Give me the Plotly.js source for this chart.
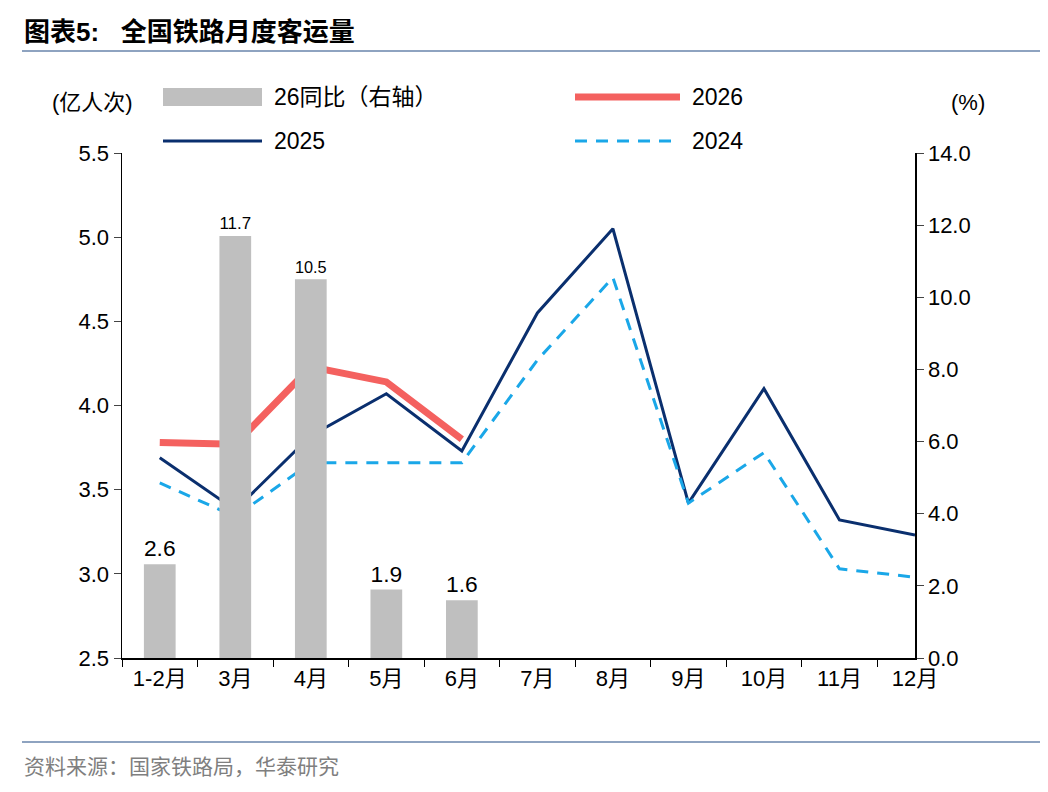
<!DOCTYPE html>
<html><head><meta charset="utf-8">
<script src="https://cdn.plot.ly/plotly-3.0.1.min.js"></script>
<style>body{margin:0;background:#fff}</style>
</head><body>
<div id="chart" style="width:1048px;height:792px"></div>
<script>
const months = ['1-2月','3月','4月','5月','6月','7月','8月','9月','10月','11月','12月'];
const yoy26 = [2.6, 11.7, 10.5, 1.9, 1.6];
const s2026 = [3.78, 3.77, 4.23, 4.14, 3.80];
const s2025 = [3.69, 3.38, 3.82, 4.07, 3.73, 4.55, 5.05, 3.42, 4.10, 3.32, 3.23];
const s2024 = [3.54, 3.34, 3.66, 3.66, 3.66, 4.27, 4.76, 3.42, 3.72, 3.03, 2.98];

const font = "Liberation Sans, Noto Sans CJK SC, sans-serif";
const C_BAR = '#bfbfbf', C26 = '#f4615f', C25 = '#0a2f6e', C24 = '#1aa7e8';

// pixel -> paper helpers (plot area 122..915 x 153..658)
const px = v => (v - 122) / 793;
const py = v => (658 - v) / 505;

const traces = [
    {
        x: months.slice(0, yoy26.length), y: yoy26, type: 'bar', yaxis: 'y2',
        marker: {color: C_BAR}, width: 0.42,
        text: yoy26.map(v => v.toFixed(1)), textposition: 'outside', cliponaxis: false,
        textfont: {size: 23, color: '#000'}, outsidetextfont: {size: 23, color: '#000'}
    },
    {x: months, y: s2026, type: 'scatter', mode: 'lines', line: {color: C26, width: 7}},
    {x: months, y: s2025, type: 'scatter', mode: 'lines', line: {color: C25, width: 3}},
    {x: months, y: s2024, type: 'scatter', mode: 'lines', line: {color: C24, width: 3, dash: '12px,9px'}}
];

function txt(text, x, y, anchor, size, color) {
    return {text: text, xref: 'paper', yref: 'paper', x: px(x), y: py(y), xanchor: anchor, yanchor: 'middle',
            showarrow: false, font: {size: size, color: color || '#000', family: font}};
}
function hline(x0, x1, y, color, width, dash) {
    return {type: 'line', xref: 'paper', yref: 'paper', x0: px(x0), x1: px(x1), y0: py(y), y1: py(y),
            line: {color: color, width: width, dash: dash || 'solid'}};
}

const layout = {
    width: 1048, height: 792,
    margin: {l: 122, r: 133, t: 153, b: 134},
    paper_bgcolor: '#fff', plot_bgcolor: '#fff',
    font: {family: font, size: 22, color: '#000'},
    showlegend: false,
    xaxis: {
        type: 'category', tickson: 'boundaries', ticks: 'outside', ticklen: 7, automargin: false,
        showline: true, linecolor: '#000', linewidth: 1.5, tickcolor: '#000',
        showgrid: false, tickfont: {size: 22}
    },
    yaxis: {
        range: [2.5, 5.5], dtick: 0.5, tickformat: '.1f', ticks: 'outside', ticklen: 7, automargin: false,
        showline: true, linecolor: '#000', linewidth: 1.5, showgrid: false, zeroline: false,
        tickfont: {size: 22}
    },
    yaxis2: {
        range: [0, 14], dtick: 2, tickformat: '.1f', overlaying: 'y', side: 'right', automargin: false,
        ticks: 'outside', ticklen: 7, showline: true, linecolor: '#000', linewidth: 1.5,
        showgrid: false, zeroline: false, tickfont: {size: 22}
    },
    shapes: [
        hline(22, 1040, 51, '#8ea3c0', 2),
        hline(22, 1040, 742, '#8ea3c0', 2),
        {type: 'rect', xref: 'paper', yref: 'paper', x0: px(163), x1: px(262), y0: py(106), y1: py(88),
         fillcolor: C_BAR, line: {width: 0}},
        hline(575, 680, 97, C26, 7),
        hline(163, 262, 141, C25, 3),
        hline(575, 680, 141, C24, 3, '12px,9px')
    ],
    annotations: [
        txt('<b>图表5:   全国铁路月度客运量</b>', 22, 32, 'left', 26),
        txt('(亿人次)', 50, 103, 'left', 22),
        txt('(%)', 968, 103, 'center', 22),
        txt('26同比（右轴）', 272, 97, 'left', 23),
        txt('2026', 690, 97, 'left', 23),
        txt('2025', 272, 141, 'left', 23),
        txt('2024', 690, 141, 'left', 23),
        txt('资料来源：国家铁路局，华泰研究', 22, 766, 'left', 21, '#7f7f7f')
    ]
};

Plotly.newPlot('chart', traces, layout, {staticPlot: true});
</script>
</body></html>
